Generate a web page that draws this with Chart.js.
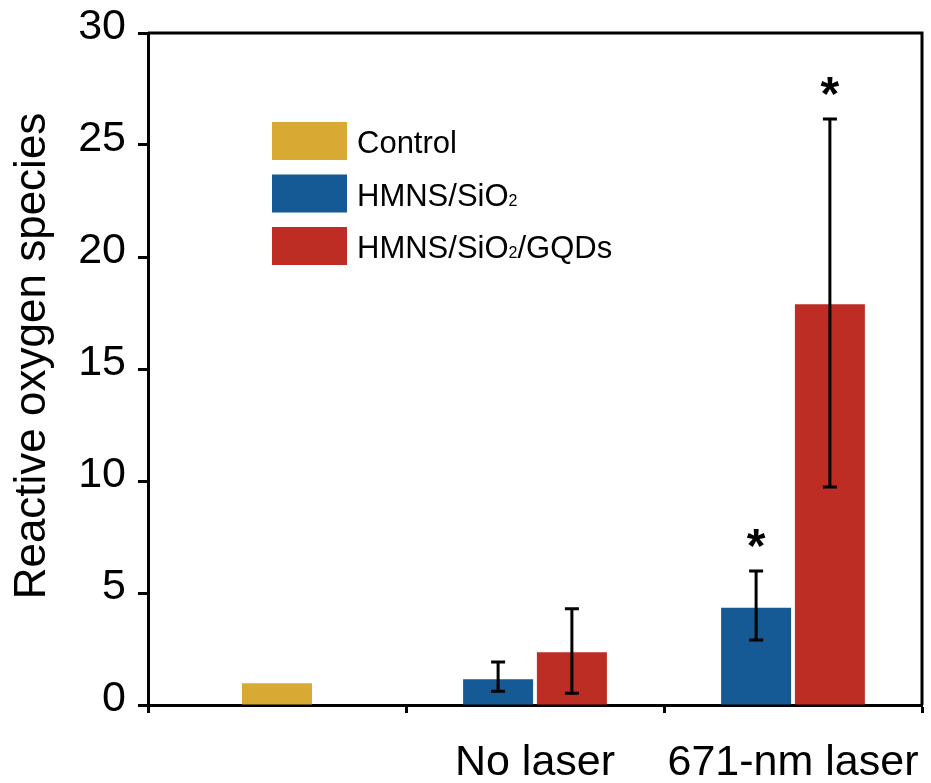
<!DOCTYPE html>
<html>
<head>
<meta charset="utf-8">
<script src="https://cdn.jsdelivr.net/npm/chart.js@4.4.1/dist/chart.umd.min.js"></script>
<style>
  html, body { margin: 0; padding: 0; background: #fff; }
  #wrap { width: 931px; height: 783px; }
</style>
</head>
<body>
<div id="wrap"><canvas id="rosChart" width="931" height="783"></canvas></div>
<script>
// values
const categories = ['', 'No laser', '671-nm laser'];
const controlValues = [0.97, null, null];
const hmnsValues = [null, 1.15, 4.34];
const gqdValues = [null, 2.35, 17.89];
// error bar ends (low / high)
const hmnsErrLow = [null, 0.61, 2.90];
const hmnsErrHigh = [null, 1.92, 5.98];
const gqdErrLow = [null, 0.52, 9.73];
const gqdErrHigh = [null, 4.30, 26.16];
// significance marks
const hmnsStar = [false, false, true];
const gqdStar = [false, false, true];
const yTickMin = 0, yTickMax = 30, yTickStep = 5;
const yTitle = 'Reactive oxygen species';

const FONT = '"Liberation Sans", Arial, Helvetica, sans-serif';

const errorBars = {
    id: 'errorBars',
    afterDatasetsDraw(chart) {
        const ctx = chart.ctx;
        const y = chart.scales.y;
        ctx.save();
        ctx.strokeStyle = '#000';
        ctx.lineWidth = 3;
        chart.data.datasets.forEach((ds, di) => {
            if (!ds.errLow) return;
            const meta = chart.getDatasetMeta(di);
            ds.data.forEach((v, i) => {
                if (v == null || ds.errLow[i] == null) return;
                const x = meta.data[i].x;
                const yLo = y.getPixelForValue(ds.errLow[i]);
                const yHi = y.getPixelForValue(ds.errHigh[i]);
                ctx.beginPath();
                ctx.moveTo(x, yLo); ctx.lineTo(x, yHi);
                ctx.moveTo(x - 7, yLo); ctx.lineTo(x + 7, yLo);
                ctx.moveTo(x - 7, yHi); ctx.lineTo(x + 7, yHi);
                ctx.stroke();
                if (ds.star && ds.star[i]) {
                    ctx.fillStyle = '#000';
                    ctx.font = 'bold 48px ' + FONT;
                    ctx.textAlign = 'center';
                    ctx.textBaseline = 'alphabetic';
                    ctx.fillText('*', x, yHi - 9);
                }
            });
        });
        ctx.restore();
    }
};

const frameAndLegend = {
    id: 'frameAndLegend',
    afterDraw(chart) {
        const ctx = chart.ctx;
        const a = chart.chartArea;
        ctx.save();
        ctx.strokeStyle = '#000';
        ctx.lineWidth = 3;
        ctx.beginPath();
        ctx.moveTo(a.left, a.top);
        ctx.lineTo(a.right, a.top);
        ctx.lineTo(a.right, a.bottom);
        ctx.stroke();

        // y axis title
        ctx.save();
        ctx.translate(45, 356);
        ctx.rotate(-Math.PI / 2);
        ctx.fillStyle = '#000';
        ctx.font = '44px ' + FONT;
        ctx.textAlign = 'center';
        ctx.textBaseline = 'alphabetic';
        ctx.fillText(yTitle, 0, 0);
        ctx.restore();

        // legend
        const boxX = 272, boxW = 75, boxH = 38, startY = 122, step = 52.5;
        chart.data.datasets.forEach((ds, i) => {
            const top = startY + i * step;
            ctx.fillStyle = ds.backgroundColor;
            ctx.fillRect(boxX, top, boxW, boxH);
            ctx.fillStyle = '#000';
            ctx.textAlign = 'left';
            ctx.textBaseline = 'alphabetic';
            const base = top + boxH / 2 + 12;
            let x = 357;
            // "2" after SiO is drawn small as a subscript
            const parts = ds.label.split('SiO2');
            parts.forEach((p, pi) => {
                ctx.font = '31px ' + FONT;
                ctx.fillText(p, x, base);
                x += ctx.measureText(p).width;
                if (pi < parts.length - 1) {
                    ctx.fillText('SiO', x, base);
                    x += ctx.measureText('SiO').width;
                    ctx.font = '16px ' + FONT;
                    ctx.fillText('2', x, base);
                    x += ctx.measureText('2').width;
                }
            });
        });
        ctx.restore();
    }
};

const rosChart = new Chart(document.getElementById('rosChart').getContext('2d'), {
    type: 'bar',
    data: {
        labels: categories,
        datasets: [
            {
                label: 'Control',
                data: controlValues,
                backgroundColor: '#D8A933'
            },
            {
                label: 'HMNS/SiO2',
                data: hmnsValues,
                backgroundColor: '#155A95',
                errLow: hmnsErrLow,
                errHigh: hmnsErrHigh,
                star: hmnsStar
            },
            {
                label: 'HMNS/SiO2/GQDs',
                data: gqdValues,
                backgroundColor: '#BE2D24',
                errLow: gqdErrLow,
                errHigh: gqdErrHigh,
                star: gqdStar
            }
        ]
    },
    options: {
        responsive: false,
        animation: false,
        devicePixelRatio: 1,
        skipNull: true,
        categoryPercentage: 0.572,
        barPercentage: 0.949,
        maxBarThickness: 70,
        layout: { padding: { top: 33, right: 9, left: 0, bottom: 0 } },
        plugins: {
            legend: { display: false },
            tooltip: { enabled: false }
        },
        scales: {
            x: {
                afterFit: (s) => {
                    s.height = 78;
                    s.paddingLeft = 0;
                    s.paddingRight = 0;
                },
                border: { display: true, color: '#000', width: 3 },
                grid: {
                    offset: true,
                    drawOnChartArea: false,
                    drawTicks: true,
                    tickLength: 8,
                    tickWidth: 3,
                    tickColor: '#000'
                },
                ticks: {
                    color: '#000',
                    padding: 24,
                    maxRotation: 0,
                    font: { family: FONT, size: 43 }
                }
            },
            y: {
                min: yTickMin,
                max: yTickMax,
                afterFit: (s) => {
                    s.width = 148;
                    s.paddingTop = 0;
                    s.paddingBottom = 0;
                },
                border: { display: true, color: '#000', width: 3 },
                grid: {
                    drawOnChartArea: false,
                    drawTicks: true,
                    tickLength: 10,
                    tickWidth: 3,
                    tickColor: '#000'
                },
                ticks: {
                    stepSize: yTickStep,
                    color: '#000',
                    padding: 12,
                    labelOffset: -6,
                    font: { family: FONT, size: 43 }
                }
            }
        }
    },
    plugins: [errorBars, frameAndLegend]
});
</script>
</body>
</html>
